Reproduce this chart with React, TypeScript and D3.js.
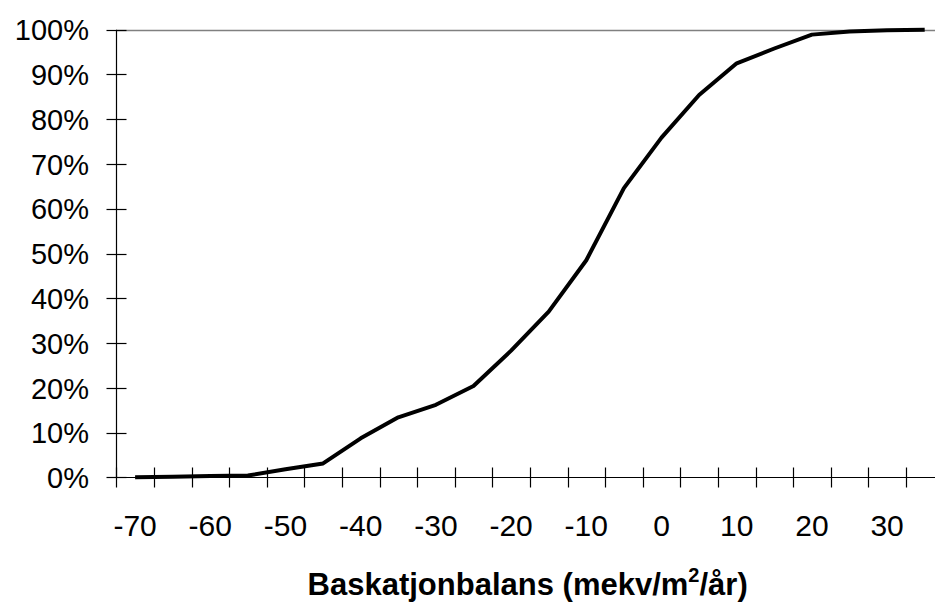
import React, { useRef, useEffect } from "react";
import * as d3 from "d3";

// baskatjonbalans classes (mekv/m2/år), step 5
const categories: number[] = [
  -70, -65, -60, -55, -50, -45, -40, -35, -30, -25, -20, -15, -10, -5, 0, 5,
  10, 15, 20, 25, 30, 35,
];
// cumulative share (%)
const cumulativeShare: number[] = [
  0, 0.1, 0.3, 0.4, 1.8, 3.1, 8.7, 13.4, 16.2, 20.4, 28.3, 37.0, 48.5, 64.6,
  75.9, 85.4, 92.5, 95.8, 98.9, 99.6, 99.9, 100,
];
const xTickLabels: string[] = ["-70", "-60", "-50", "-40", "-30", "-20", "-10", "0", "10", "20", "30"];
const yTicks: number[] = [0, 10, 20, 30, 40, 50, 60, 70, 80, 90, 100];

const FONT = '"Liberation Sans", Arial, sans-serif';

const App = () => {
  const chartRef = useRef<SVGSVGElement>(null);

  useEffect(() => {
    const width = 935;
    const height = 604;
    const left = 116.3;
    const step = 37.6;
    const right = left + step * categories.length; // runs past the edge, like the original crop
    const top = 29.7;
    const bottom = 477.3;

    const svg = d3.select(chartRef.current);
    svg.selectAll("*").remove();
    svg.attr("width", width).attr("height", height);

    const x = d3
      .scaleBand<number>()
      .domain(categories)
      .range([left, right])
      .padding(0);
    const y = d3.scaleLinear().domain([0, 100]).range([bottom, top]);

    // top border / gridline at 100%
    svg
      .append("line")
      .attr("x1", left)
      .attr("x2", right)
      .attr("y1", Math.round(y(100)) + 0.5)
      .attr("y2", Math.round(y(100)) + 0.5)
      .attr("stroke", "#808080")
      .attr("stroke-width", 1.3);

    // y axis
    const yAxisX = Math.round(left) + 0.5;
    svg
      .append("line")
      .attr("x1", yAxisX)
      .attr("x2", yAxisX)
      .attr("y1", y(100))
      .attr("y2", y(0))
      .attr("stroke", "#000")
      .attr("stroke-width", 1.2);

    svg
      .append("g")
      .selectAll("line")
      .data(yTicks)
      .enter()
      .append("line")
      .attr("x1", yAxisX - 10)
      .attr("x2", yAxisX + 10)
      .attr("y1", (d) => Math.round(y(d)) + 0.5)
      .attr("y2", (d) => Math.round(y(d)) + 0.5)
      .attr("stroke", "#000")
      .attr("stroke-width", 1.2);

    svg
      .append("g")
      .selectAll("text")
      .data(yTicks)
      .enter()
      .append("text")
      .attr("x", 89)
      .attr("y", (d) => y(d))
      .attr("dy", "0.37em")
      .attr("text-anchor", "end")
      .style("font-family", FONT)
      .style("font-size", "29px")
      .attr("fill", "#000")
      .text((d) => `${d}%`);

    // x axis
    const xAxisY = Math.round(bottom) + 0.5;
    svg
      .append("line")
      .attr("x1", left)
      .attr("x2", right)
      .attr("y1", xAxisY)
      .attr("y2", xAxisY)
      .attr("stroke", "#000")
      .attr("stroke-width", 1.2);

    const boundaries = categories.map((c) => x(c) as number).concat([right]);
    svg
      .append("g")
      .selectAll("line")
      .data(boundaries)
      .enter()
      .append("line")
      .attr("x1", (d) => Math.round(d) + 0.5)
      .attr("x2", (d) => Math.round(d) + 0.5)
      .attr("y1", xAxisY - 10)
      .attr("y2", xAxisY + 10)
      .attr("stroke", "#000")
      .attr("stroke-width", 1.2);

    svg
      .append("g")
      .selectAll("text")
      .data(xTickLabels)
      .enter()
      .append("text")
      .attr("x", (d) => (x(+d) as number) + x.bandwidth() / 2)
      .attr("y", 535.5)
      .attr("text-anchor", "middle")
      .style("font-family", FONT)
      .style("font-size", "30px")
      .attr("fill", "#000")
      .text((d) => d);

    // cumulative curve
    const line = d3
      .line<number>()
      .x((d, i) => (x(categories[i]) as number) + x.bandwidth() / 2)
      .y((d) => y(d));

    svg
      .append("path")
      .datum(cumulativeShare)
      .attr("d", line)
      .attr("fill", "none")
      .attr("stroke", "#000")
      .attr("stroke-width", 4)
      .attr("stroke-linejoin", "round");

    // axis title
    const title = svg
      .append("text")
      .attr("x", (left + width) / 2 + 2)
      .attr("y", 595)
      .attr("text-anchor", "middle")
      .style("font-family", FONT)
      .style("font-size", "31px")
      .style("font-weight", "bold")
      .attr("fill", "#000");
    title.append("tspan").text("Baskatjonbalans (mekv/m");
    title
      .append("tspan")
      .attr("dy", -13)
      .style("font-size", "20px")
      .text("2");
    title.append("tspan").attr("dy", 13).text("/år)");

    return () => {
      svg.selectAll("*").remove();
    };
  }, []);

  return (
    <svg
      ref={chartRef}
      style={{ position: "absolute", left: 0, top: 0, display: "block", background: "#fff" }}
    ></svg>
  );
};

export default App;
